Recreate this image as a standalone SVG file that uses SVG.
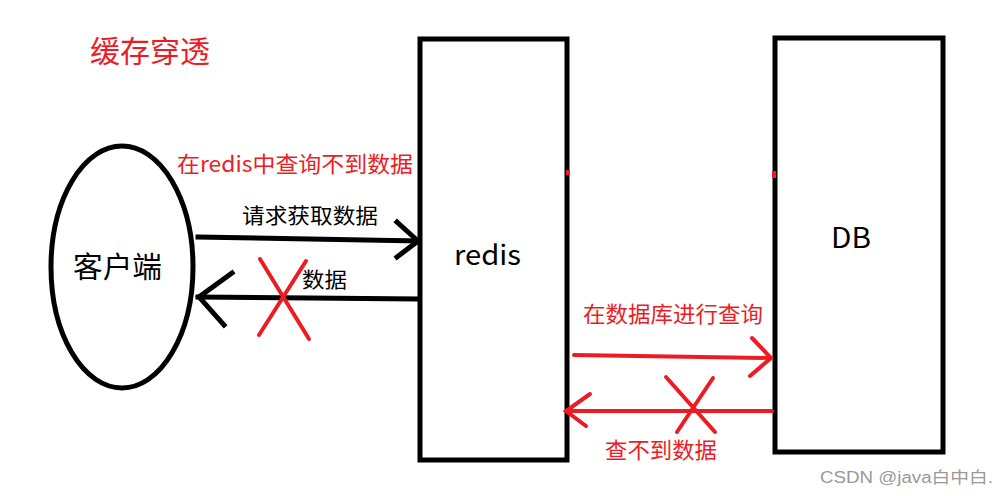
<svg xmlns="http://www.w3.org/2000/svg" width="1008" height="496" viewBox="0 0 1008 496">
<style>
.blk{fill:none;stroke:#000;stroke-width:5;stroke-linecap:square}
.red{fill:none;stroke:#ed1c24;stroke-width:4;stroke-linecap:round}
.t{font-family:"Microsoft YaHei","Noto Sans CJK SC","Noto Sans",sans-serif}
.tr{fill:#ed1c24}
.tb{fill:#000}
</style>
<rect width="1008" height="496" fill="#fff"/>
<text class="t tr" x="90" y="62" font-size="30" textLength="120" lengthAdjust="spacingAndGlyphs">缓存穿透</text>
<g id="client">
<ellipse class="blk" cx="122" cy="267" rx="71" ry="121"/>
<text class="t tb" x="73" y="278" font-size="29" textLength="89" lengthAdjust="spacingAndGlyphs">客户端</text>
</g>
<g id="redis">
<rect class="blk" x="420" y="39" width="147" height="421"/>
<text class="t tb" x="454" y="265" font-size="28" textLength="67" lengthAdjust="spacingAndGlyphs">redis</text>
<rect x="566" y="170" width="4" height="5" fill="#ed1c24"/>
</g>
<g id="db">
<rect class="blk" x="775" y="38" width="168" height="414"/>
<text class="t tb" x="831" y="248" font-size="28" textLength="40" lengthAdjust="spacingAndGlyphs">DB</text>
<rect x="772" y="171" width="4" height="7" fill="#ed1c24"/>
</g>
<g id="connectors">
<polyline class="blk" points="198,237 418,241"/>
<polyline class="blk" points="397,222 418,241 397,257"/>
<polyline class="blk" points="418,299 198,297"/>
<polyline class="blk" points="232,273 199,297 224,325"/>
<line class="red" x1="260" y1="259" x2="309" y2="339"/>
<line class="red" x1="306" y1="261" x2="259" y2="335"/>
<polyline class="red" points="574,355 771,358"/>
<polyline class="red" points="752,338 771,358 750,376"/>
<polyline class="red" points="772,411 566,411"/>
<polyline class="red" points="590,394 566,411 586,426"/>
<line class="red" x1="666" y1="377" x2="715" y2="432"/>
<line class="red" x1="713" y1="378" x2="677" y2="432"/>
</g>
<g id="labels">
<text class="t tr" x="177" y="172" font-size="22" textLength="236" lengthAdjust="spacingAndGlyphs">在redis中查询不到数据</text>
<text class="t tb" x="242" y="223" font-size="21" textLength="136" lengthAdjust="spacingAndGlyphs">请求获取数据</text>
<text class="t tb" x="302" y="287" font-size="21" textLength="45" lengthAdjust="spacingAndGlyphs">数据</text>
<text class="t tr" x="583" y="322" font-size="22" textLength="180" lengthAdjust="spacingAndGlyphs">在数据库进行查询</text>
<text class="t tr" x="605" y="458" font-size="22" textLength="112" lengthAdjust="spacingAndGlyphs">查不到数据</text>
</g>
<text x="820" y="483" font-size="16" fill="#999" font-family="'Liberation Sans','Noto Sans CJK SC',sans-serif" textLength="173" lengthAdjust="spacingAndGlyphs">CSDN @java白中白.</text>
</svg>
